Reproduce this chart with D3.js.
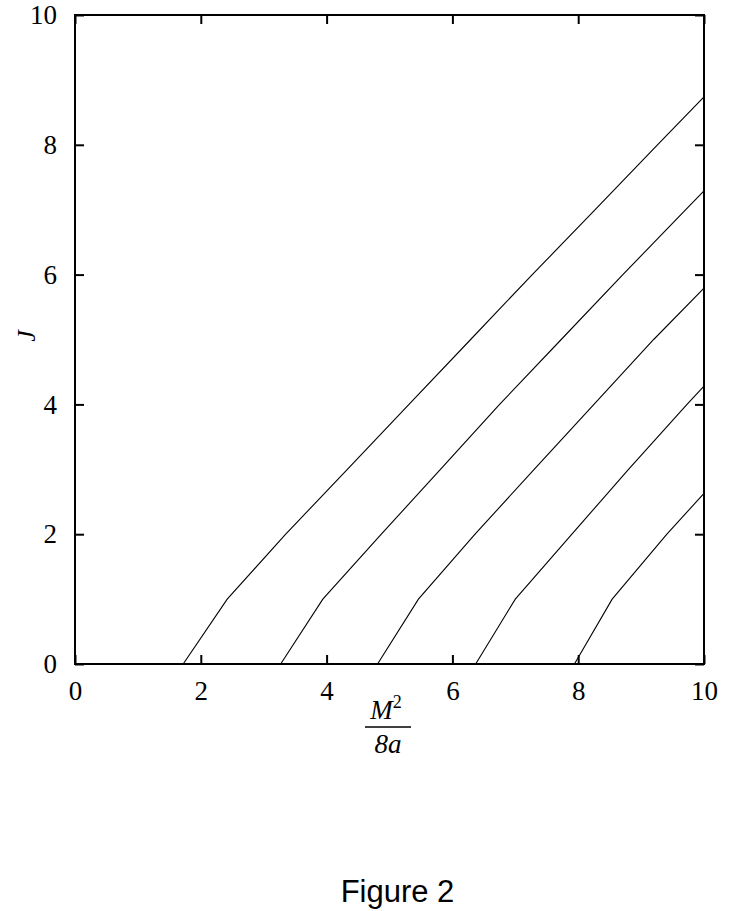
<!DOCTYPE html>
<html><head><meta charset="utf-8">
<script src="https://cdn.jsdelivr.net/npm/d3@7"></script>
<style>body{margin:0;background:#fff}svg{display:block}</style>
</head><body>
<script>
// Data: x = M^2/(8a), y = J
const xTicks = [0, 2, 4, 6, 8, 10];
const yTicks = [0, 2, 4, 6, 8, 10];
const curve1 = [[1.72,0],[2.42,1],[3.35,2],[4.33,3],[5.31,4],[6.29,5],[7.27,6],[8.27,7],[9.26,8],[10,8.74]];
const curve2 = [[3.27,0],[3.94,1],[4.87,2],[5.81,3],[6.75,4],[7.73,5],[8.71,6],[9.71,7],[10,7.29]];
const curve3 = [[4.81,0],[5.46,1],[6.36,2],[7.30,3],[8.25,4],[9.20,5],[10,5.79]];
const curve4 = [[6.37,0],[7.00,1],[7.90,2],[8.80,3],[9.73,4],[10,4.28]];
const curve5 = [[7.94,0],[8.54,1],[9.41,2],[10,2.63]];
const curves = [curve1, curve2, curve3, curve4, curve5];

const W = 747, H = 911;
const m = {left: 75, right: 43, top: 15, bottom: 247};
const svg = d3.select("body").append("svg").attr("width", W).attr("height", H);
const x = d3.scaleLinear().domain([0, 10]).range([m.left, W - m.right]);
const y = d3.scaleLinear().domain([0, 10]).range([H - m.bottom, m.top]);

const serif = "'Liberation Serif','Times New Roman',serif";
const tickLen = 9;

// curves
const line = d3.line().x(d => x(d[0])).y(d => y(d[1]));
svg.append("g").selectAll("path").data(curves).join("path")
  .attr("d", line).attr("fill", "none").attr("stroke", "#000").attr("stroke-width", 1.1);

// axes with inward ticks (mirrored)
const ax = g => g.attr("font-family", serif).attr("font-size", 27);
svg.append("g").attr("transform", `translate(0,${y(0)})`)
  .call(d3.axisBottom(x).tickValues(xTicks).tickSize(-tickLen).tickPadding(17).tickFormat(d3.format("d")))
  .call(ax).call(g => g.select(".domain").remove());
svg.append("g").attr("transform", `translate(0,${y(10)})`)
  .call(d3.axisTop(x).tickValues(xTicks).tickSize(-tickLen).tickFormat(""))
  .call(g => g.select(".domain").remove());
svg.append("g").attr("transform", `translate(${x(0)},0)`)
  .call(d3.axisLeft(y).tickValues(yTicks).tickSize(-tickLen).tickPadding(18).tickFormat(d3.format("d")))
  .call(ax).call(g => g.select(".domain").remove());
svg.append("g").attr("transform", `translate(${x(10)},0)`)
  .call(d3.axisRight(y).tickValues(yTicks).tickSize(-tickLen).tickFormat(""))
  .call(g => g.select(".domain").remove());
svg.selectAll(".tick line").attr("stroke", "#000").attr("stroke-width", 2);
svg.selectAll(".tick text").attr("fill", "#000");

// frame
svg.append("rect").attr("x", x(0)).attr("y", y(10))
  .attr("width", x(10) - x(0)).attr("height", y(0) - y(10))
  .attr("fill", "none").attr("stroke", "#000").attr("stroke-width", 2);

// y label
svg.append("text").attr("transform", "translate(35,336) rotate(-90)")
  .attr("text-anchor", "middle").attr("font-family", serif).attr("font-style", "italic")
  .attr("font-size", 26).text("J");

// x label: fraction M^2 / 8a
const fx = 388;
const tl = svg.append("text").attr("x", fx - 2).attr("y", 719).attr("text-anchor", "middle")
  .attr("font-family", serif).attr("font-style", "italic").attr("font-size", 27);
tl.append("tspan").text("M");
tl.append("tspan").attr("font-size", 18).attr("font-style", "normal").attr("dy", -11).text("2");
svg.append("line").attr("x1", fx - 23).attr("x2", fx + 23).attr("y1", 727).attr("y2", 727)
  .attr("stroke", "#000").attr("stroke-width", 1.3);
svg.append("text").attr("x", fx).attr("y", 753).attr("text-anchor", "middle")
  .attr("font-family", serif).attr("font-style", "italic").attr("font-size", 27).text("8a");

// caption
svg.append("text").attr("x", 397.5).attr("y", 902).attr("text-anchor", "middle")
  .attr("font-family", "'Liberation Sans',Arial,sans-serif").attr("font-size", 31).text("Figure 2");
</script>
</body></html>
